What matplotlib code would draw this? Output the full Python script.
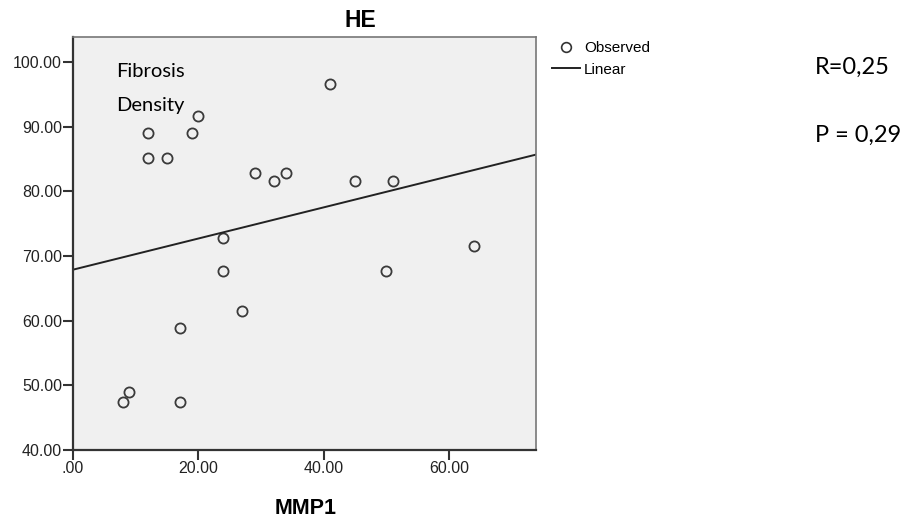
import matplotlib
matplotlib.use("Agg")
import matplotlib.pyplot as plt
from matplotlib.lines import Line2D

# data
mmp1 = [8, 9, 17, 17, 12, 12, 15, 19, 20, 24, 24, 27, 29, 32, 34, 41, 45, 50, 51, 64]
density = [47.5, 48.9, 47.5, 58.9, 89.0, 85.2, 85.2, 89.0, 91.6, 72.8, 67.7, 61.5,
           82.9, 81.6, 82.9, 96.6, 81.6, 67.7, 81.6, 71.6]
fit_intercept = 67.9
fit_slope = 0.241
xticks = [0, 20, 40, 60]
xtick_labels = [".00", "20.00", "40.00", "60.00"]
yticks = [40, 50, 60, 70, 80, 90, 100]
ytick_labels = ["%.2f" % v for v in yticks]

plt.rcParams['font.family'] = ['Liberation Sans', 'DejaVu Sans']

W, H = 914, 519
fig = plt.figure(figsize=(W / 100, H / 100), dpi=100)
ax = fig.add_axes([73 / W, 1 - 450 / H, 462.5 / W, 413 / H])
ax.set_facecolor('#f0f0f0')

xmin, xmax = 0, 73.8
ax.plot(mmp1, density, 'o', markerfacecolor='none', markeredgecolor='#3a3a3a',
        markersize=7.3, markeredgewidth=1.3, linestyle='none')
ax.plot([xmin, xmax], [fit_intercept + fit_slope * xmin, fit_intercept + fit_slope * xmax],
        color='#222222', linewidth=1.4)

ax.set_xlim(xmin, xmax)
ax.set_ylim(40, 103.9)
ax.set_xticks(xticks)
ax.set_xticklabels(xtick_labels)
ax.set_yticks(yticks)
ax.set_yticklabels(ytick_labels)
ax.tick_params(direction='out', length=7, width=1.5, color='#333333',
               labelsize=11.5, labelcolor='#222222', pad=1)
ax.tick_params(top=False, right=False)
for s in ['left', 'bottom']:
    ax.spines[s].set_color('#333333')
    ax.spines[s].set_linewidth(1.6)
for s in ['top', 'right']:
    ax.spines[s].set_color('#777777')
    ax.spines[s].set_linewidth(1.2)

fig.text(360 / W, 1 - 27 / H, "HE", ha='center', va='baseline',
         fontsize=16.5, fontweight='bold')
fig.text(306 / W, 1 - 514 / H, "MMP1", ha='center', va='baseline',
         fontsize=15.5, fontweight='bold')

calibri = ['Lato', 'DejaVu Sans']
fig.text(116 / W, 1 - 77 / H, "Fibrosis", ha='left', va='baseline',
         fontsize=14.5, family=calibri)
fig.text(116 / W, 1 - 110.5 / H, "Density", ha='left', va='baseline',
         fontsize=14.5, family=calibri)
fig.text(815 / W, 1 - 74 / H, "R=0,25", ha='left', va='baseline',
         fontsize=17, family=calibri)
fig.text(815 / W, 1 - 141.5 / H, "P = 0,29", ha='left', va='baseline',
         fontsize=17, family=calibri)

handles = [Line2D([], [], marker='o', linestyle='none', markerfacecolor='none',
                  markeredgecolor='#333333', markersize=7, markeredgewidth=1.2),
           Line2D([], [], color='#222222', linewidth=1.4)]
fig.legend(handles, ["Observed", "Linear"], loc='upper left',
           bbox_to_anchor=(552 / W, 1 - 41 / H), frameon=False,
           fontsize=11, handlelength=1.85, handletextpad=0.25,
           labelspacing=0.5, borderaxespad=0, borderpad=0)

fig.savefig("out.png", dpi=100)
